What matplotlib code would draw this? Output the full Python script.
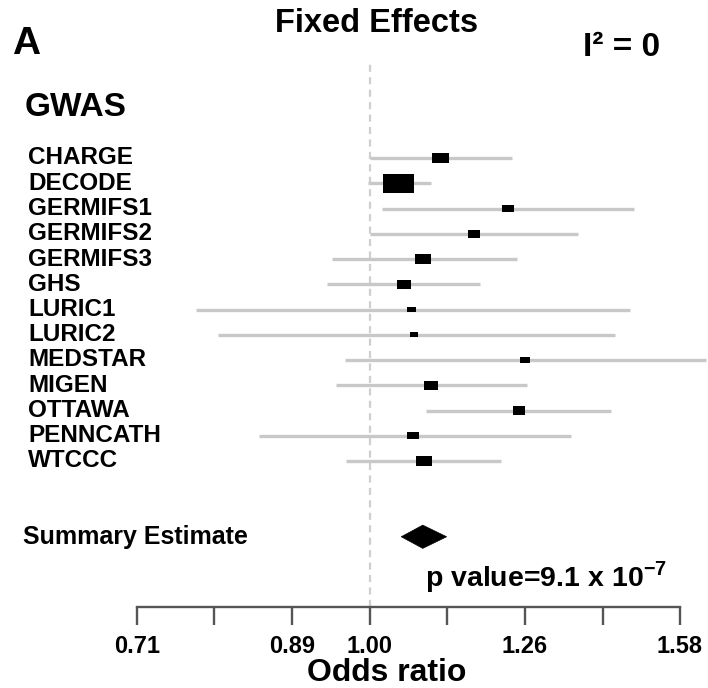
import numpy as np
import matplotlib
matplotlib.use("Agg")
import matplotlib.pyplot as plt
from matplotlib.path import Path
from matplotlib.patches import Polygon
from matplotlib.transforms import blended_transform_factory

plt.rcParams['font.family'] = ['Liberation Sans', 'DejaVu Sans']
plt.rcParams['font.weight'] = 'bold'
plt.rcParams['mathtext.fontset'] = 'custom'
plt.rcParams['mathtext.rm'] = 'Liberation Sans:bold'
plt.rcParams['mathtext.bf'] = 'Liberation Sans:bold'

# ---- data ----
studies = ["CHARGE", "DECODE", "GERMIFS1", "GERMIFS2", "GERMIFS3", "GHS", "LURIC1",
           "LURIC2", "MEDSTAR", "MIGEN", "OTTAWA", "PENNCATH", "WTCCC"]
odds_ratio = [1.111, 1.044, 1.228, 1.167, 1.082, 1.052, 1.064, 1.068, 1.259, 1.095, 1.248, 1.066, 1.084]
ci_low = [1.000, 0.997, 1.019, 1.001, 0.945, 0.938, 0.773, 0.798, 0.964, 0.951, 1.087, 0.848, 0.966]
ci_high = [1.235, 1.096, 1.480, 1.362, 1.244, 1.178, 1.472, 1.439, 1.648, 1.263, 1.431, 1.348, 1.215]
weights = [9.1, 31.7, 5.1, 5.1, 8.0, 6.8, 3.0, 2.2, 3.8, 6.2, 5.5, 4.7, 8.6]
summary_or = 1.082
summary_low = 1.048
summary_high = 1.121
tick_values = [0.708, 0.794, 0.891, 1.000, 1.122, 1.259, 1.413, 1.585]
tick_labels = ["0.71", "", "0.89", "1.00", "", "1.26", "", "1.58"]

W, H = 708, 688
fig = plt.figure(figsize=(W / 100, H / 100), dpi=100)
fig.patch.set_facecolor('white')

# axes: x 137..680 px, y 0..607 px (from top)
ax = fig.add_axes([137 / W, (H - 607) / H, 543 / W, 607 / H])
ax.set_xscale('log')
ax.set_xlim(tick_values[0], tick_values[-1])
row0_px, row_step = 158.0, 25.25
ax.set_ylim((607 - row0_px) / row_step, (0 - row0_px) / row_step)

for s in ['top', 'left', 'right']:
    ax.spines[s].set_visible(False)
ax.spines['bottom'].set_color('#555555')
ax.spines['bottom'].set_linewidth(1.7)
ax.set_yticks([])
ax.set_xticks(tick_values)
ax.set_xticklabels(tick_labels)
ax.xaxis.set_minor_locator(matplotlib.ticker.NullLocator())
ax.tick_params(axis='x', direction='out', length=13, width=1.7, color='#555555',
               labelsize=17, pad=7)
for lbl in ax.get_xticklabels():
    lbl.set_fontweight('bold')

# reference dashed line
ax.axvline(1.0, ymin=0, ymax=(607 - 63) / 607, color='#cfcfcf', lw=1.6,
           linestyle=(0, (3.2, 2.4)), zorder=1)

rows = np.arange(len(studies))
# confidence intervals
for y, lo, hi in zip(rows, ci_low, ci_high):
    ax.plot([lo, hi], [y, y], color='#c8c8c8', lw=2.4, solid_capstyle='butt',
            zorder=2, clip_on=False)

# boxes sized by weight
aspect = 1.6
rect = Path([(-1, -1 / aspect), (1, -1 / aspect), (1, 1 / aspect), (-1, 1 / aspect), (-1, -1 / aspect)],
            [Path.MOVETO, Path.LINETO, Path.LINETO, Path.LINETO, Path.CLOSEPOLY])
area_px = np.array(weights) * 18.75
w_px = np.sqrt(area_px / aspect) * aspect
ax.scatter(odds_ratio, rows, s=(w_px * 0.72) ** 2, marker=rect, color='black',
           linewidths=0, zorder=3, clip_on=False)

# summary diamond
sy = 15
dh = 0.46
diamond = Polygon([(summary_low, sy), (summary_or, sy - dh), (summary_high, sy), (summary_or, sy + dh)],
                  closed=True, facecolor='black', edgecolor='black', lw=0.5, zorder=3)
ax.add_patch(diamond)

# labels
lab_tr = blended_transform_factory(fig.transFigure, ax.transData)
for y, name in zip(rows, studies):
    ax.text(28 / W, y, name, transform=lab_tr, ha='left', va='center',
            fontsize=17.5, fontweight='bold')
ax.text(25 / W, -2, "GWAS", transform=lab_tr, ha='left', va='center',
        fontsize=24, fontweight='bold')
ax.text(23 / W, sy, "Summary Estimate", transform=lab_tr, ha='left', va='center',
        fontsize=18, fontweight='bold')

fig.text(377 / W, 1 - 24 / H, "Fixed Effects", ha='center', va='center',
         fontsize=23.5, fontweight='bold')
fig.text(12 / W, 1 - 44 / H, "A", ha='left', va='center', fontsize=28, fontweight='bold')
fig.text(583 / W, 1 - 47 / H, "I\u00b2 = 0", ha='left', va='center', fontsize=24,
         fontweight='bold')
fig.text(425 / W, 1 - 577 / H, r"p value=9.1 x 10$^{\mathbf{-7}}$", ha='left', va='center',
         fontsize=20.5, fontweight='bold')
fig.text(387 / W, 1 - 673 / H, "Odds ratio", ha='center', va='center',
         fontsize=23, fontweight='bold')

fig.savefig("out.png", dpi=100, facecolor='white')
